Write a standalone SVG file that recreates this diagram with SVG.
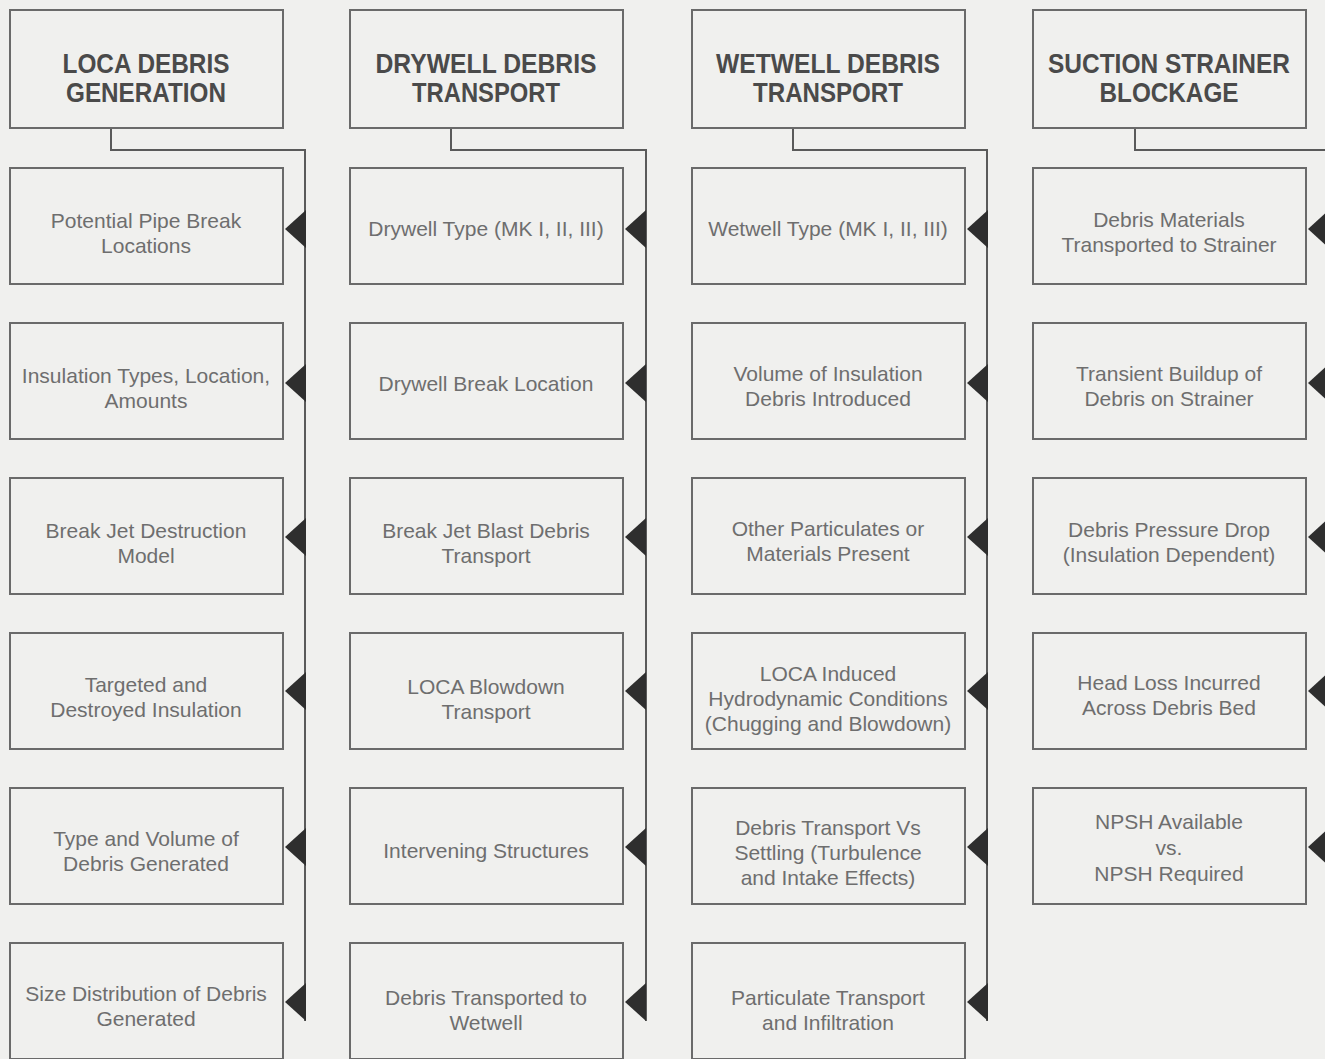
<svg xmlns="http://www.w3.org/2000/svg" width="1325" height="1059" viewBox="0 0 1325 1059">
<style>
.bg{fill:#f0f0ee}
.box{fill:none;stroke:#6a6a6a;stroke-width:2}
.hd{font-family:"Liberation Sans",Arial,sans-serif;font-weight:bold;font-size:28px;fill:#4a4a4a;text-anchor:middle}
.tx{font-family:"Liberation Sans",Arial,sans-serif;font-size:21px;fill:#6e6e6e;text-anchor:middle}
.ln{fill:none;stroke:#5a5a5a;stroke-width:2}
.ar{fill:#2e2e2e}
</style>
<defs>
<path id="tri" class="ar" d="M0,0 L21,-19 L21,19 Z"/>
</defs>
<rect class="bg" x="0" y="0" width="1325" height="1059"/>

<g id="connectors">
<path class="ln" d="M111,128 V150 H305 V1021"/>
<path class="ln" d="M451,128 V150 H646 V1021"/>
<path class="ln" d="M793,128 V150 H987 V1021"/>
<path class="ln" d="M1135,128 V150 H1328 V866"/>
<use href="#tri" x="285" y="229"/><use href="#tri" x="285" y="383"/><use href="#tri" x="285" y="537"/><use href="#tri" x="285" y="691"/><use href="#tri" x="285" y="847"/><use href="#tri" x="285" y="1002"/>
<use href="#tri" x="625" y="229"/><use href="#tri" x="625" y="383"/><use href="#tri" x="625" y="537"/><use href="#tri" x="625" y="691"/><use href="#tri" x="625" y="847"/><use href="#tri" x="625" y="1002"/>
<use href="#tri" x="967" y="229"/><use href="#tri" x="967" y="383"/><use href="#tri" x="967" y="537"/><use href="#tri" x="967" y="691"/><use href="#tri" x="967" y="847"/><use href="#tri" x="967" y="1002"/>
<use href="#tri" x="1308" y="229"/><use href="#tri" x="1308" y="383"/><use href="#tri" x="1308" y="537"/><use href="#tri" x="1308" y="691"/><use href="#tri" x="1308" y="847"/>
</g>

<!-- Column 1 -->
<g id="h1"><rect class="box" x="10" y="10" width="273" height="118"/>
<text class="hd" x="146" y="73" textLength="167" lengthAdjust="spacingAndGlyphs">LOCA DEBRIS</text>
<text class="hd" x="146" y="102" textLength="160" lengthAdjust="spacingAndGlyphs">GENERATION</text></g>
<g id="c1r1"><rect class="box" x="10" y="168" width="273" height="116"/>
<text class="tx" x="146" y="228">Potential Pipe Break</text><text class="tx" x="146" y="253">Locations</text></g>
<g id="c1r2"><rect class="box" x="10" y="323" width="273" height="116"/>
<text class="tx" x="146" y="383">Insulation Types, Location,</text><text class="tx" x="146" y="408">Amounts</text></g>
<g id="c1r3"><rect class="box" x="10" y="478" width="273" height="116"/>
<text class="tx" x="146" y="538">Break Jet Destruction</text><text class="tx" x="146" y="563">Model</text></g>
<g id="c1r4"><rect class="box" x="10" y="633" width="273" height="116"/>
<text class="tx" x="146" y="692">Targeted and</text><text class="tx" x="146" y="717">Destroyed Insulation</text></g>
<g id="c1r5"><rect class="box" x="10" y="788" width="273" height="116"/>
<text class="tx" x="146" y="846">Type and Volume of</text><text class="tx" x="146" y="871">Debris Generated</text></g>
<g id="c1r6"><rect class="box" x="10" y="943" width="273" height="116"/>
<text class="tx" x="146" y="1001">Size Distribution of Debris</text><text class="tx" x="146" y="1026">Generated</text></g>

<!-- Column 2 -->
<g id="h2"><rect class="box" x="350" y="10" width="273" height="118"/>
<text class="hd" x="486" y="73" textLength="221" lengthAdjust="spacingAndGlyphs">DRYWELL DEBRIS</text>
<text class="hd" x="486" y="102" textLength="148" lengthAdjust="spacingAndGlyphs">TRANSPORT</text></g>
<g id="c2r1"><rect class="box" x="350" y="168" width="273" height="116"/>
<text class="tx" x="486" y="236">Drywell Type (MK I, II, III)</text></g>
<g id="c2r2"><rect class="box" x="350" y="323" width="273" height="116"/>
<text class="tx" x="486" y="391">Drywell Break Location</text></g>
<g id="c2r3"><rect class="box" x="350" y="478" width="273" height="116"/>
<text class="tx" x="486" y="538">Break Jet Blast Debris</text><text class="tx" x="486" y="563">Transport</text></g>
<g id="c2r4"><rect class="box" x="350" y="633" width="273" height="116"/>
<text class="tx" x="486" y="694">LOCA Blowdown</text><text class="tx" x="486" y="719">Transport</text></g>
<g id="c2r5"><rect class="box" x="350" y="788" width="273" height="116"/>
<text class="tx" x="486" y="858">Intervening Structures</text></g>
<g id="c2r6"><rect class="box" x="350" y="943" width="273" height="116"/>
<text class="tx" x="486" y="1005">Debris Transported to</text><text class="tx" x="486" y="1030">Wetwell</text></g>

<!-- Column 3 -->
<g id="h3"><rect class="box" x="692" y="10" width="273" height="118"/>
<text class="hd" x="828" y="73" textLength="224" lengthAdjust="spacingAndGlyphs">WETWELL DEBRIS</text>
<text class="hd" x="828" y="102" textLength="150" lengthAdjust="spacingAndGlyphs">TRANSPORT</text></g>
<g id="c3r1"><rect class="box" x="692" y="168" width="273" height="116"/>
<text class="tx" x="828" y="236">Wetwell Type (MK I, II, III)</text></g>
<g id="c3r2"><rect class="box" x="692" y="323" width="273" height="116"/>
<text class="tx" x="828" y="381">Volume of Insulation</text><text class="tx" x="828" y="406">Debris Introduced</text></g>
<g id="c3r3"><rect class="box" x="692" y="478" width="273" height="116"/>
<text class="tx" x="828" y="536">Other Particulates or</text><text class="tx" x="828" y="561">Materials Present</text></g>
<g id="c3r4"><rect class="box" x="692" y="633" width="273" height="116"/>
<text class="tx" x="828" y="681">LOCA Induced</text><text class="tx" x="828" y="706">Hydrodynamic Conditions</text><text class="tx" x="828" y="731">(Chugging and Blowdown)</text></g>
<g id="c3r5"><rect class="box" x="692" y="788" width="273" height="116"/>
<text class="tx" x="828" y="835">Debris Transport Vs</text><text class="tx" x="828" y="860">Settling (Turbulence</text><text class="tx" x="828" y="885">and Intake Effects)</text></g>
<g id="c3r6"><rect class="box" x="692" y="943" width="273" height="116"/>
<text class="tx" x="828" y="1005">Particulate Transport</text><text class="tx" x="828" y="1030">and Infiltration</text></g>

<!-- Column 4 -->
<g id="h4"><rect class="box" x="1033" y="10" width="273" height="118"/>
<text class="hd" x="1169" y="73" textLength="242" lengthAdjust="spacingAndGlyphs">SUCTION STRAINER</text>
<text class="hd" x="1169" y="102" textLength="139" lengthAdjust="spacingAndGlyphs">BLOCKAGE</text></g>
<g id="c4r1"><rect class="box" x="1033" y="168" width="273" height="116"/>
<text class="tx" x="1169" y="227">Debris Materials</text><text class="tx" x="1169" y="252">Transported to Strainer</text></g>
<g id="c4r2"><rect class="box" x="1033" y="323" width="273" height="116"/>
<text class="tx" x="1169" y="381">Transient Buildup of</text><text class="tx" x="1169" y="406">Debris on Strainer</text></g>
<g id="c4r3"><rect class="box" x="1033" y="478" width="273" height="116"/>
<text class="tx" x="1169" y="537">Debris Pressure Drop</text><text class="tx" x="1169" y="562">(Insulation Dependent)</text></g>
<g id="c4r4"><rect class="box" x="1033" y="633" width="273" height="116"/>
<text class="tx" x="1169" y="690">Head Loss Incurred</text><text class="tx" x="1169" y="715">Across Debris Bed</text></g>
<g id="c4r5"><rect class="box" x="1033" y="788" width="273" height="116"/>
<text class="tx" x="1169" y="829">NPSH Available</text><text class="tx" x="1169" y="855">vs.</text><text class="tx" x="1169" y="881">NPSH Required</text></g>
</svg>
